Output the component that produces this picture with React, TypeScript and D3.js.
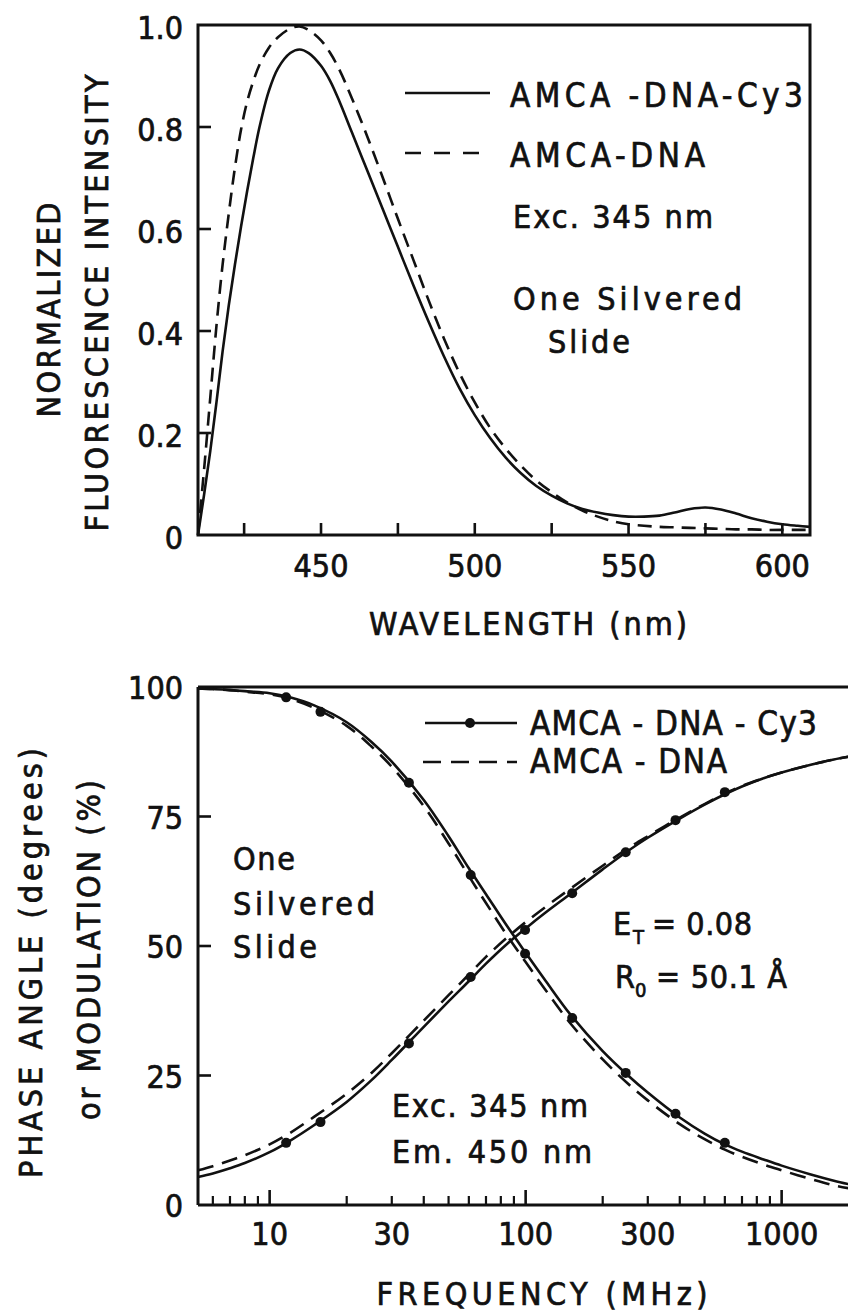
import React from "react";
import * as d3 from "d3";

// ---- top panel: emission spectra ----
const wavelengths = [410, 412, 414, 416, 418, 420, 422, 424, 426, 428, 430, 433, 436, 440, 443, 446, 450, 453, 456, 460, 465, 470, 475, 480, 485, 490, 495, 500, 505, 510, 515, 520, 525, 530, 535, 540, 545, 550, 555, 560, 565, 570, 575, 580, 585, 590, 595, 600, 605, 609];
const emissionCy3 = [0, 0.08, 0.165, 0.26, 0.36, 0.45, 0.53, 0.605, 0.675, 0.74, 0.8, 0.87, 0.915, 0.945, 0.952, 0.945, 0.92, 0.89, 0.85, 0.79, 0.715, 0.64, 0.565, 0.49, 0.418, 0.35, 0.288, 0.235, 0.19, 0.152, 0.121, 0.096, 0.077, 0.062, 0.051, 0.044, 0.039, 0.036, 0.036, 0.038, 0.044, 0.051, 0.054, 0.05, 0.042, 0.033, 0.026, 0.021, 0.018, 0.016];
const emissionDna = [0, 0.13, 0.27, 0.41, 0.53, 0.63, 0.72, 0.795, 0.85, 0.89, 0.922, 0.955, 0.976, 0.993, 0.997, 0.99, 0.97, 0.945, 0.912, 0.857, 0.782, 0.702, 0.62, 0.54, 0.46, 0.385, 0.318, 0.26, 0.21, 0.17, 0.136, 0.107, 0.084, 0.064, 0.048, 0.036, 0.027, 0.021, 0.018, 0.016, 0.015, 0.014, 0.013, 0.012, 0.011, 0.011, 0.01, 0.01, 0.01, 0.01];
const waveLabels = [450, 500, 550, 600];
const waveTicks = [425, 450, 475, 500, 525, 550, 575, 600];
const intensityLabels = [0, 0.2, 0.4, 0.6, 0.8, 1.0];

// ---- bottom panel: frequency-domain data ----
const freqGrid = [5.25, 6, 7, 8, 10, 12, 15, 20, 25, 30, 40, 50, 60, 70, 85, 100, 120, 150, 200, 250, 300, 400, 500, 600, 700, 850, 1000, 1300, 1600, 2000];
const phaseCy3 = [5.4, 6.1, 7.1, 8.1, 10.2, 12.4, 15.5, 19.9, 24.1, 28.0, 34.4, 39.3, 43.2, 46.6, 50.5, 53.4, 56.5, 60.1, 64.8, 68.3, 70.9, 74.6, 77.3, 79.3, 80.8, 82.4, 83.5, 85.0, 86.0, 86.9];
const phaseDna = [6.7, 7.5, 8.6, 9.6, 11.7, 13.9, 17.1, 21.5, 25.5, 29.3, 35.6, 40.5, 44.5, 47.9, 51.7, 54.6, 57.6, 61.1, 65.5, 68.8, 71.2, 74.8, 77.4, 79.4, 80.9, 82.4, 83.5, 85.0, 86.0, 86.9];
const modCy3 = [99.7, 99.6, 99.4, 99.2, 98.8, 98.0, 96.4, 93.2, 89.4, 85.6, 78.2, 71.2, 65.0, 60.0, 53.7, 48.7, 43.2, 36.7, 29.7, 25.1, 21.7, 16.9, 13.8, 11.7, 10.3, 8.8, 7.6, 5.9, 4.7, 3.6];
const modDna = [99.7, 99.6, 99.4, 99.1, 98.6, 97.7, 95.9, 92.5, 88.5, 84.6, 77.0, 69.8, 63.5, 58.3, 51.9, 46.9, 41.4, 35.0, 28.1, 23.5, 20.2, 15.6, 12.7, 10.7, 9.3, 7.8, 6.7, 5.0, 3.8, 2.9];
const measuredFreq = [11.6, 15.8, 35.0, 61.0, 99.5, 152, 246, 385, 600];
const measuredPhase = [12.0, 16.0, 31.2, 44.0, 53.1, 60.2, 68.1, 74.3, 79.7];
const measuredMod = [98.0, 95.2, 81.5, 63.7, 48.5, 36.1, 25.5, 17.6, 12.0];
const freqLabels = [10, 30, 100, 300, 1000];
const freqMajor = [10, 100, 1000];
const freqMinor = [6, 7, 8, 9, 20, 30, 40, 50, 60, 70, 80, 90, 200, 300, 400, 500, 600, 700, 800, 900];
const pctLabels = [0, 25, 50, 75, 100];

const FONT = "'Liberation Sans Narrow', 'DejaVu Sans Condensed', 'Liberation Sans', sans-serif";

const Txt = ({ x, y, w, size = 32, anchor = "start", rotate = false, children }: any) => (
  <text
    x={x}
    y={y}
    fontSize={size}
    textAnchor={anchor}
    textLength={w}
    lengthAdjust={w ? "spacing" : undefined}
    transform={rotate ? `rotate(-90 ${x} ${y})` : undefined}
  >
    {children}
  </text>
);

export default function App() {
  // top panel scales
  const xW = d3.scaleLinear().domain([410, 609]).range([198, 810]);
  const yI = d3.scaleLinear().domain([0, 1]).range([535, 25]);
  const specLine = (vals: number[]) =>
    d3.line<number>().x((_, i) => xW(wavelengths[i])).y((d) => yI(d)).curve(d3.curveCatmullRom.alpha(0.5))(vals) || "";

  // bottom panel scales
  const xF = d3.scaleLog().domain([5.25, 2000]).range([198, 858.7]);
  const yP = d3.scaleLinear().domain([0, 100]).range([1205, 687]);
  const freqLine = (vals: number[]) =>
    d3.line<number>().x((_, i) => xF(freqGrid[i])).y((d) => yP(d)).curve(d3.curveCatmullRom.alpha(0.5))(vals) || "";

  const sw = 2.6;

  return (
    <svg
      width={848}
      height={1312}
      style={{ position: "absolute", left: 0, top: 0, background: "#fff" }}
      fontFamily={FONT}
      fill="#111"
      stroke="none"
    >
      <g stroke="#111" strokeWidth={0.7}>
        {/* ================= TOP PANEL text ================= */}
        {intensityLabels.map((t) => (
          <text key={t} x={183} y={yI(t) + 14} fontSize={32} textAnchor="end">
            {t === 0 ? "0" : t.toFixed(1)}
          </text>
        ))}
        {waveLabels.map((t) => (
          <text key={t} x={xW(t)} y={577} fontSize={32} textAnchor="middle">
            {t}
          </text>
        ))}
        <Txt x={60} y={310} w={215} anchor="middle" rotate>NORMALIZED</Txt>
        <Txt x={108} y={303} w={457} anchor="middle" rotate>FLUORESCENCE INTENSITY</Txt>
        <Txt x={528} y={635} w={318} anchor="middle">WAVELENGTH (nm)</Txt>
        <Txt x={510} y={107} w={293} size={33}>AMCA -DNA-Cy3</Txt>
        <Txt x={510} y={167} w={195} size={33}>AMCA-DNA</Txt>
        <Txt x={513} y={228} w={200}>Exc. 345 nm</Txt>
        <Txt x={513} y={310} w={229}>One  Silvered</Txt>
        <Txt x={548} y={353} w={82}>Slide</Txt>

        {/* ================= BOTTOM PANEL text ================= */}
        {pctLabels.map((t) => (
          <text key={t} x={183} y={yP(t) + 12} fontSize={32} textAnchor="end">
            {t}
          </text>
        ))}
        {freqLabels.map((t) => (
          <text key={t} x={xF(t)} y={1245} fontSize={32} textAnchor="middle">
            {t}
          </text>
        ))}
        <Txt x={42} y={963} w={430} anchor="middle" rotate>PHASE ANGLE (degrees)</Txt>
        <Txt x={100} y={950} w={340} anchor="middle" rotate>or MODULATION (%)</Txt>
        <Txt x={542} y={1305} w={331} anchor="middle">FREQUENCY (MHz)</Txt>
        <Txt x={530} y={735} w={287} size={33}>AMCA - DNA - Cy3</Txt>
        <Txt x={530} y={773} w={197} size={33}>AMCA - DNA</Txt>
        <Txt x={233} y={870} w={62}>One</Txt>
        <Txt x={233} y={915} w={142}>Silvered</Txt>
        <Txt x={233} y={958} w={84}>Slide</Txt>
        <text x={613} y={935} fontSize={32}>E</text>
        <text x={633} y={944} fontSize={20}>T</text>
        <Txt x={652} y={935} w={100}>= 0.08</Txt>
        <text x={615} y={988} fontSize={32}>R</text>
        <text x={635} y={997} fontSize={20}>0</text>
        <Txt x={656} y={988} w={131}>= 50.1 Å</Txt>
        <Txt x={392} y={1117} w={196}>Exc. 345 nm</Txt>
        <Txt x={392} y={1163} w={200}>Em. 450 nm</Txt>
      </g>

      {/* ================= TOP PANEL ================= */}
      <rect x={198} y={25} width={612} height={510} fill="none" stroke="#111" strokeWidth={3} />
      {waveTicks.map((t) => (
        <line key={t} x1={xW(t)} x2={xW(t)} y1={535} y2={523} stroke="#111" strokeWidth={2.6} />
      ))}
      {intensityLabels.filter((t) => t > 0 && t < 1).map((t) => (
        <line key={t} x1={198} x2={211} y1={yI(t)} y2={yI(t)} stroke="#111" strokeWidth={2.6} />
      ))}
      <path d={specLine(emissionDna)} fill="none" stroke="#111" strokeWidth={sw} strokeDasharray="14 8" />
      <path d={specLine(emissionCy3)} fill="none" stroke="#111" strokeWidth={sw} />

      <line x1={405} x2={490} y1={93} y2={93} stroke="#111" strokeWidth={sw} />
      <line x1={405} x2={490} y1={153} y2={153} stroke="#111" strokeWidth={sw} strokeDasharray="16 13" />

      {/* ================= BOTTOM PANEL ================= */}
      <line x1={198} x2={848} y1={687} y2={687} stroke="#111" strokeWidth={3} />
      <line x1={198} x2={848} y1={1205} y2={1205} stroke="#111" strokeWidth={3} />
      <line x1={198} x2={198} y1={687} y2={1205} stroke="#111" strokeWidth={3} />
      {freqMajor.map((t) => (
        <line key={t} x1={xF(t)} x2={xF(t)} y1={1205} y2={1190} stroke="#111" strokeWidth={2.6} />
      ))}
      {freqMinor.map((t) => (
        <line key={t} x1={xF(t)} x2={xF(t)} y1={1205} y2={1196} stroke="#111" strokeWidth={2.2} />
      ))}
      {pctLabels.filter((t) => t > 0 && t < 100).map((t) => (
        <line key={t} x1={198} x2={211} y1={yP(t)} y2={yP(t)} stroke="#111" strokeWidth={2.6} />
      ))}

      <path d={freqLine(phaseDna)} fill="none" stroke="#111" strokeWidth={sw} strokeDasharray="16 9" />
      <path d={freqLine(modDna)} fill="none" stroke="#111" strokeWidth={sw} strokeDasharray="16 9" />
      <path d={freqLine(phaseCy3)} fill="none" stroke="#111" strokeWidth={sw} />
      <path d={freqLine(modCy3)} fill="none" stroke="#111" strokeWidth={sw} />
      {measuredFreq.map((f, i) => (
        <g key={f}>
          <circle cx={xF(f)} cy={yP(measuredPhase[i])} r={5} fill="#111" />
          <circle cx={xF(f)} cy={yP(measuredMod[i])} r={5} fill="#111" />
        </g>
      ))}

      <line x1={425} x2={517} y1={723} y2={723} stroke="#111" strokeWidth={sw} />
      <circle cx={470} cy={723} r={5} fill="#111" />
      <line x1={423} x2={517} y1={762} y2={762} stroke="#111" strokeWidth={sw} strokeDasharray="18 10" />
    </svg>
  );
}
